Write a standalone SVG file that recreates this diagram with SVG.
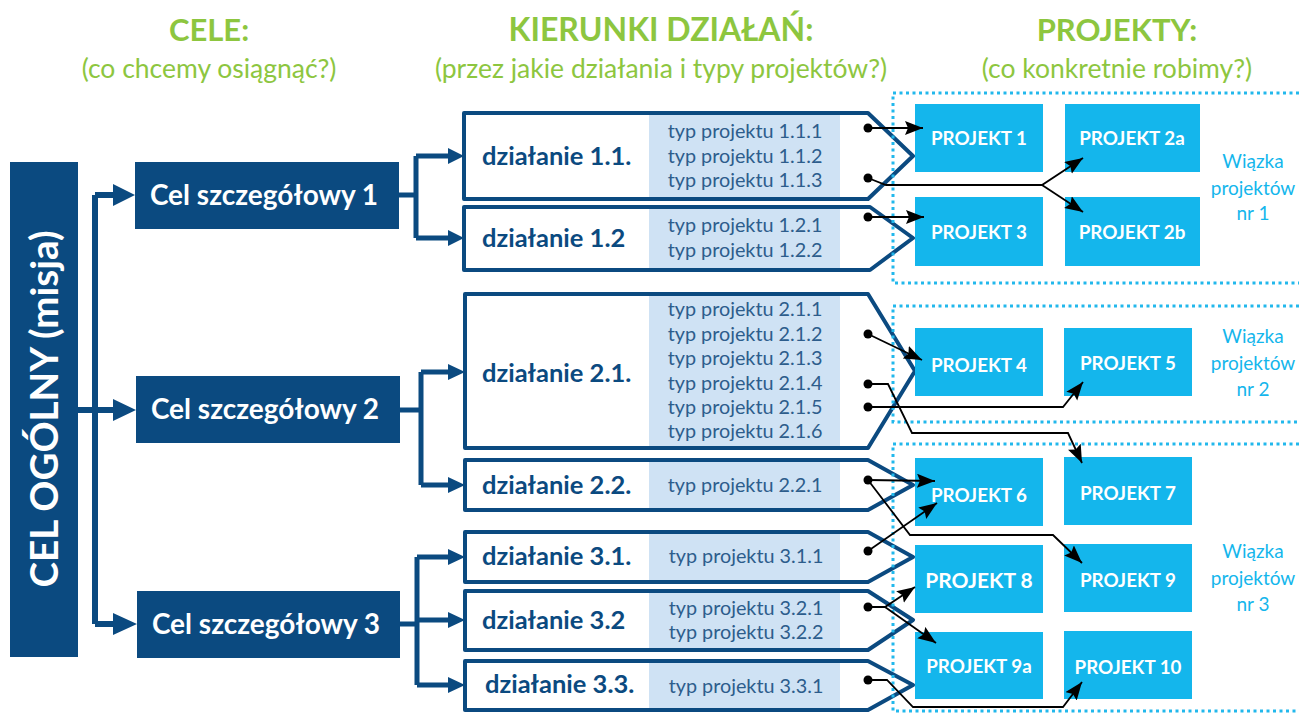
<svg xmlns="http://www.w3.org/2000/svg" width="1299" height="713" viewBox="0 0 1299 713">
<defs>
<style>
.hdr{font-family:Lato,"Liberation Sans",sans-serif;font-weight:bold;fill:#8DC63F;text-anchor:middle}
.sub{font-family:Lato,"Liberation Sans",sans-serif;fill:#8DC63F;text-anchor:middle;font-size:26.5px}
.navy{fill:#0B4A80}
.cel{font-family:Lato,"Liberation Sans",sans-serif;font-weight:bold;fill:#fff;font-size:28px;text-anchor:middle}
.big{font-size:38.5px}
.dz{fill:#fff;stroke:#0B4A80;stroke-width:4;stroke-linejoin:round}
.panel{fill:#CFE2F4}
.dzt{font-family:Lato,"Liberation Sans",sans-serif;font-weight:bold;fill:#0B4A80;font-size:25.5px}
.typ{font-family:Lato,"Liberation Sans",sans-serif;fill:#2D5D8C;font-size:19.8px;text-anchor:middle}
.pj{fill:#14B6EC}
.pjt{font-family:Lato,"Liberation Sans",sans-serif;font-weight:bold;fill:#fff;font-size:18.8px;text-anchor:middle}
.pjt8{font-size:21px}
.wz{font-family:Lato,"Liberation Sans",sans-serif;fill:#14B6EC;font-size:19px;text-anchor:middle}
.dot{fill:none;stroke:#22B8EC;stroke-width:3;stroke-dasharray:3 3.5}
.br{fill:none;stroke:#0B4A80;stroke-width:5}
.trunk{stroke-width:6}
.cn{fill:none;stroke:#000;stroke-width:1.8;marker-end:url(#ah)}
</style>
<marker id="ah" markerWidth="20" markerHeight="16" refX="18" refY="7" orient="auto" markerUnits="userSpaceOnUse">
<path d="M0,0 L18,7 L0,14 L3,7 Z" fill="#000"/>
</marker>
</defs>
<rect width="1299" height="713" fill="#fff"/>

<g id="headers">
<text class="hdr" x="209" y="41" font-size="31">CELE:</text>
<text class="sub" x="209" y="78">(co chcemy osiągnąć?)</text>
<text class="hdr" x="661" y="41" font-size="32">KIERUNKI DZIAŁAŃ:</text>
<text class="sub" x="661" y="78">(przez jakie działania i typy projektów?)</text>
<text class="hdr" x="1117" y="41" font-size="31">PROJEKTY:</text>
<text class="sub" x="1117" y="78">(co konkretnie robimy?)</text>
</g>

<g id="cel-ogolny">
<rect class="navy" x="10" y="162" width="68" height="495"/>
<text class="cel big" transform="translate(58,409) rotate(-90)">CEL OGÓLNY (misja)</text>
</g>

<g id="cel1"><rect class="navy" x="135" y="162" width="264" height="67"/><text class="cel" x="264" y="205">Cel szczegółowy 1</text></g>
<g id="cel2"><rect class="navy" x="136" y="376" width="264" height="67"/><text class="cel" x="265" y="419">Cel szczegółowy 2</text></g>
<g id="cel3"><rect class="navy" x="137" y="591" width="263" height="67"/><text class="cel" x="266" y="634">Cel szczegółowy 3</text></g>

<g id="dz11">
<path class="dz" d="M464,113 H868 L913,156 L868,199 H464 Z"/>
<rect class="panel" x="649" y="115" width="191" height="82"/>
<text class="dzt" x="482" y="165">działanie 1.1.</text>
<text class="typ" x="745" y="138">typ projektu 1.1.1</text>
<text class="typ" x="745" y="163">typ projektu 1.1.2</text>
<text class="typ" x="745" y="187">typ projektu 1.1.3</text>
</g>
<g id="dz12">
<path class="dz" d="M464,207 H870 L913,238 L870,270 H464 Z"/>
<rect class="panel" x="649" y="209" width="191" height="59"/>
<text class="dzt" x="482" y="247">działanie 1.2</text>
<text class="typ" x="745" y="232">typ projektu 1.2.1</text>
<text class="typ" x="745" y="257">typ projektu 1.2.2</text>
</g>
<g id="dz21">
<path class="dz" d="M465,294 H868 L915,371 L868,448 H465 Z"/>
<rect class="panel" x="649" y="296" width="191" height="150"/>
<text class="dzt" x="482" y="382">działanie 2.1.</text>
<text class="typ" x="745" y="316">typ projektu 2.1.1</text>
<text class="typ" x="745" y="341">typ projektu 2.1.2</text>
<text class="typ" x="745" y="365">typ projektu 2.1.3</text>
<text class="typ" x="745" y="390">typ projektu 2.1.4</text>
<text class="typ" x="745" y="414">typ projektu 2.1.5</text>
<text class="typ" x="745" y="438">typ projektu 2.1.6</text>
</g>
<g id="dz22">
<path class="dz" d="M465,460 H868 L913,485 L868,510 H465 Z"/>
<rect class="panel" x="649" y="462" width="191" height="46"/>
<text class="dzt" x="482" y="494">działanie 2.2.</text>
<text class="typ" x="745" y="492">typ projektu 2.2.1</text>
</g>
<g id="dz31">
<path class="dz" d="M465,532 H868 L913,557 L868,582 H465 Z"/>
<rect class="panel" x="649" y="534" width="191" height="46"/>
<text class="dzt" x="482" y="565">działanie 3.1.</text>
<text class="typ" x="746" y="563">typ projektu 3.1.1</text>
</g>
<g id="dz32">
<path class="dz" d="M465,591 H868 L913,620 L868,650 H465 Z"/>
<rect class="panel" x="649" y="593" width="191" height="55"/>
<text class="dzt" x="482" y="629">działanie 3.2</text>
<text class="typ" x="746" y="615">typ projektu 3.2.1</text>
<text class="typ" x="746" y="639">typ projektu 3.2.2</text>
</g>
<g id="dz33">
<path class="dz" d="M465,661 H868 L913,685 L868,710 H465 Z"/>
<rect class="panel" x="649" y="663" width="191" height="45"/>
<text class="dzt" x="485" y="693">działanie 3.3.</text>
<text class="typ" x="746" y="693">typ projektu 3.3.1</text>
</g>

<g id="wiazka1">
<path class="dot" d="M1299,93 H893 V283 H1299"/>
<text class="wz" x="1253" y="168">Wiązka</text>
<text class="wz" x="1253" y="195">projektów</text>
<text class="wz" x="1253" y="220">nr 1</text>
</g>
<g id="wiazka2">
<path class="dot" d="M1299,306 H893 V422 H1299"/>
<text class="wz" x="1253" y="343">Wiązka</text>
<text class="wz" x="1253" y="370">projektów</text>
<text class="wz" x="1253" y="396">nr 2</text>
</g>
<g id="wiazka3">
<path class="dot" d="M1299,444 H893 V711 H1299"/>
<text class="wz" x="1253" y="558">Wiązka</text>
<text class="wz" x="1253" y="585">projektów</text>
<text class="wz" x="1253" y="611">nr 3</text>
</g>

<g id="p1"><rect class="pj" x="915" y="104" width="128" height="68"/><text class="pjt" x="979" y="145">PROJEKT 1</text></g>
<g id="p2a"><rect class="pj" x="1065" y="104" width="135" height="68"/><text class="pjt" x="1132" y="145">PROJEKT 2a</text></g>
<g id="p3"><rect class="pj" x="915" y="197" width="128" height="69"/><text class="pjt" x="979" y="239">PROJEKT 3</text></g>
<g id="p2b"><rect class="pj" x="1065" y="197" width="135" height="69"/><text class="pjt" x="1132" y="239">PROJEKT 2b</text></g>
<g id="p4"><rect class="pj" x="915" y="328" width="128" height="68"/><text class="pjt" x="979" y="372">PROJEKT 4</text></g>
<g id="p5"><rect class="pj" x="1064" y="328" width="128" height="68"/><text class="pjt" x="1128" y="370">PROJEKT 5</text></g>
<g id="p6"><rect class="pj" x="915" y="458" width="128" height="68"/><text class="pjt" x="979" y="502">PROJEKT 6</text></g>
<g id="p7"><rect class="pj" x="1064" y="457" width="128" height="68"/><text class="pjt" x="1128" y="500">PROJEKT 7</text></g>
<g id="p8"><rect class="pj" x="915" y="545" width="128" height="68"/><text class="pjt pjt8" x="979" y="588">PROJEKT 8</text></g>
<g id="p9"><rect class="pj" x="1064" y="544" width="128" height="68"/><text class="pjt" x="1128" y="587">PROJEKT 9</text></g>
<g id="p9a"><rect class="pj" x="915" y="632" width="128" height="67"/><text class="pjt" x="979" y="673">PROJEKT 9a</text></g>
<g id="p10"><rect class="pj" x="1064" y="631" width="128" height="68"/><text class="pjt" x="1128" y="674">PROJEKT 10</text></g>

<g id="connectors">
<path class="br trunk" d="M78,410 H114 M95,195 V624 M95,195 H114 M95,624 H114"/>
<path class="navy" d="M113,184 L135,195 L113,206 Z M113,399 L136,410 L113,421 Z M113,613 L137,624 L113,635 Z"/>
<path class="br" d="M399,195 H416 M416,156 V238 M416,156 H450 M416,238 H450"/>
<path class="br" d="M400,410 H421 M421,372 V485 M421,372 H450 M421,485 H450"/>
<path class="br" d="M400,624 H417 M417,557 V685 M417,557 H450 M417,620 H450 M417,685 H450"/>
<path class="navy" d="M448,148 L464,156 L448,164 Z M448,230 L464,238 L448,246 Z M448,364 L465,372 L448,380 Z M448,477 L465,485 L448,493 Z M448,549 L465,557 L448,565 Z M448,612 L465,620 L448,628 Z M448,677 L465,685 L448,693 Z"/>
<g fill="#000">
<circle cx="868" cy="128" r="4.5"/><circle cx="868" cy="178" r="4.5"/><circle cx="868" cy="217" r="4.5"/>
<circle cx="868" cy="334" r="4.5"/><circle cx="868" cy="384" r="4.5"/><circle cx="868" cy="407" r="4.5"/>
<circle cx="868" cy="480" r="4.5"/><circle cx="868" cy="551" r="4.5"/><circle cx="868" cy="607" r="4.5"/><circle cx="868" cy="680" r="4.5"/>
</g>
<path class="cn" d="M868,128 L923,128"/>
<path class="cn" d="M868,178 L886,185 H1042 L1083,158"/>
<path class="cn" d="M1042,185 L1083,212"/>
<path class="cn" d="M868,217 L924,217"/>
<path class="cn" d="M868,334 L922,360"/>
<path class="cn" d="M868,384 H888 L912,433 H1068 L1082,463"/>
<path class="cn" d="M868,407 H1063 L1083,382"/>
<path class="cn" d="M868,480 L935,481"/>
<path class="cn" d="M868,480 L910,535 H1053 L1082,563"/>
<path class="cn" d="M868,551 L937,503"/>
<path class="cn" d="M868,607 H885 L915,587"/>
<path class="cn" d="M885,607 L936,643"/>
<path class="cn" d="M868,680 H887 L913,707 H1063 L1082,682"/>
</g>
</svg>
